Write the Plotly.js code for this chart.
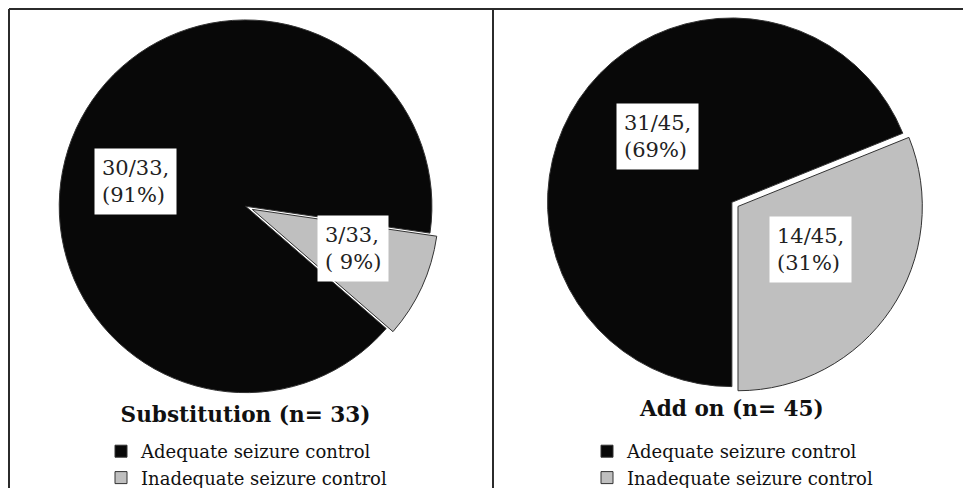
<!DOCTYPE html>
<html>
<head>
<meta charset="utf-8">
<script src="https://cdn.plot.ly/plotly-3.0.1.min.js"></script>
<style>html,body{margin:0;padding:0;background:#fff;}</style>
</head>
<body>
<div id="chart" style="width:963px;height:488px;"></div>
<script>
// ---- data ----
const categories = ["Adequate seizure control", "Inadequate seizure control"];
const substitutionCounts = [30, 3];
const addOnCounts = [31, 14];
const panelTitles = ["Substitution (n= 33)", "Add on (n= 45)"];

// ---- styles ----
const sliceColors = ["#080808", "#bfbfbf"];
const serif = "DejaVu Serif, serif";

function labelText(counts, i) {
  const total = counts.reduce((a, b) => a + b, 0);
  const pct = Math.round(counts[i] / total * 100);
  const p = pct < 10 ? " " + pct : String(pct);
  return counts[i] + "/" + total + ",<br>(" + p + "%)";
}

// second panel gets its own legend entries (same visible text)
const categories2 = categories.map(c => c + "\u200b");

const traces = [
  {
    type: "pie", labels: categories, values: substitutionCounts,
    sort: false, direction: "clockwise", rotation: 131,
    pull: [0, 0.04], textinfo: "none", hoverinfo: "skip",
    marker: {colors: sliceColors, line: {color: "#333", width: 1}},
    domain: {x: [0, 0.51], y: [0.1289, 0.9744]},
    title: {text: "<b>" + panelTitles[0] + "</b>", position: "bottom center",
            font: {family: serif, size: 21.6, color: "#111"}},
    legend: "legend"
  },
  {
    type: "pie", labels: categories2, values: addOnCounts,
    sort: false, direction: "clockwise", rotation: 180,
    pull: [0, 0.04], textinfo: "none", hoverinfo: "skip",
    marker: {colors: sliceColors, line: {color: "#333", width: 1}},
    domain: {x: [0.52, 1.0], y: [0.1414, 0.9783]},
    title: {text: "<b>" + panelTitles[1] + "</b>", position: "bottom center",
            font: {family: serif, size: 21.6, color: "#111"}},
    legend: "legend2"
  }
];

const labelPos = [
  {x: 135, y: 181, counts: substitutionCounts, i: 0},
  {x: 353, y: 248, counts: substitutionCounts, i: 1},
  {x: 657, y: 136, counts: addOnCounts, i: 0},
  {x: 810, y: 249, counts: addOnCounts, i: 1}
];
const W = 963, H = 488;
const annotations = labelPos.map(p => ({
  xref: "paper", yref: "paper", x: p.x / W, y: 1 - p.y / H,
  xanchor: "center", yanchor: "middle", showarrow: false,
  text: labelText(p.counts, p.i), align: "left",
  bgcolor: "#ffffff", borderpad: 7,
  font: {family: serif, size: 21, color: "#222"}
}));

const lineStyle = {color: "#2b2b2b", width: 2};
const shapes = [
  {type: "line", xref: "paper", yref: "paper", x0: 9 / W, x1: 1, y0: 1 - 9 / H, y1: 1 - 9 / H, line: lineStyle},
  {type: "line", xref: "paper", yref: "paper", x0: 9 / W, x1: 9 / W, y0: 0, y1: 1 - 9 / H, line: lineStyle},
  {type: "line", xref: "paper", yref: "paper", x0: 493 / W, x1: 493 / W, y0: 0, y1: 1 - 9 / H, line: lineStyle}
];

const legendStyle = {
  font: {family: serif, size: 18, color: "#111"},
  bgcolor: "rgba(0,0,0,0)", xanchor: "left", yanchor: "top",
  itemclick: false, itemdoubleclick: false, tracegroupgap: 0
};

const layout = {
  width: W, height: H,
  margin: {l: 0, r: 0, t: 0, b: 0, autoexpand: false},
  paper_bgcolor: "#ffffff",
  showlegend: true,
  legend: Object.assign({}, legendStyle, {x: 101 / W, y: 1 - 433 / H}),
  legend2: Object.assign({}, legendStyle, {x: 587 / W, y: 1 - 433 / H}),
  annotations: annotations,
  shapes: shapes
};

Plotly.newPlot("chart", traces, layout, {displayModeBar: false, staticPlot: true});
</script>
</body>
</html>
